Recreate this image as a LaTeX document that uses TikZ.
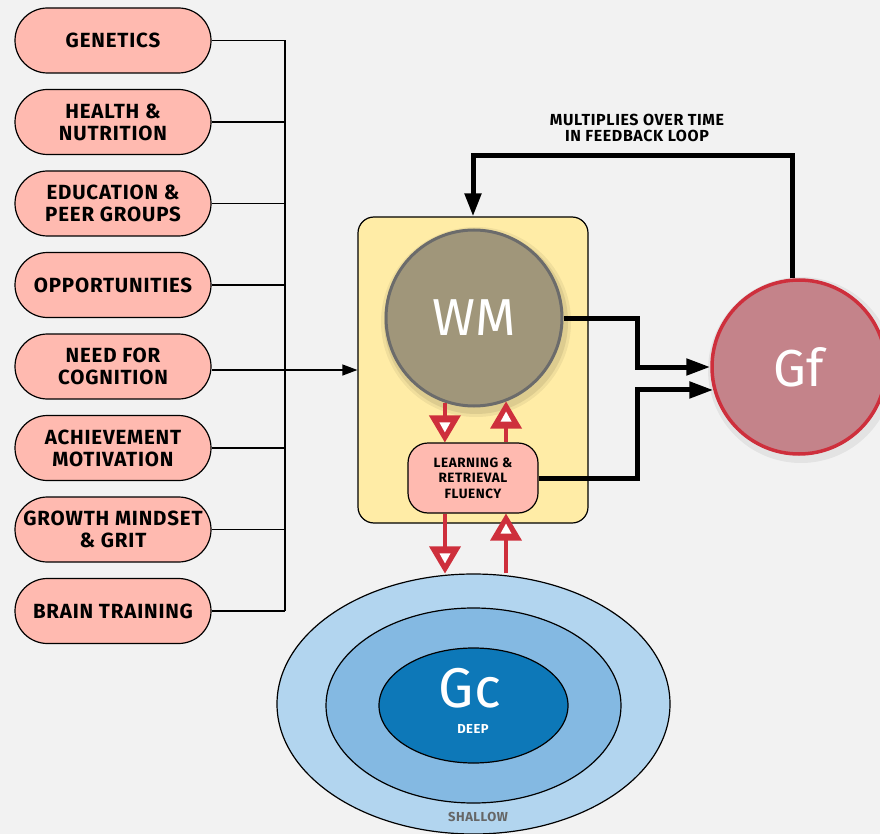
\documentclass[tikz,border=0pt]{standalone}
\usepackage{fontspec}
\setmainfont{Fira Sans}
\newfontfamily\handfont{Fira Sans}
\newfontfamily\widefont{Fira Sans}[LetterSpace=4]
\usetikzlibrary{arrows.meta,shapes.misc,shapes.geometric}

\definecolor{bgcol}{HTML}{F2F2F2}
\definecolor{pillfill}{HTML}{FFBAB0}
\definecolor{boxfill}{HTML}{FFECA6}
\definecolor{wmfill}{HTML}{A0967A}
\definecolor{wmline}{HTML}{6B6B6B}
\definecolor{redline}{HTML}{CE2F3C}
\definecolor{gffill}{HTML}{C4838A}
\definecolor{outerblue}{HTML}{B2D5EF}
\definecolor{midblue}{HTML}{84B9E2}
\definecolor{innerblue}{HTML}{0D78B8}
\definecolor{shallowgray}{HTML}{666666}

\tikzset{
  pill/.style={rounded rectangle, draw=black, line width=1.2pt, fill=pillfill,
    minimum width=196pt, minimum height=65pt, inner sep=0pt, align=center,
    font=\widefont\bfseries\fontsize{20.5}{22}\selectfont},
  feed/.style={line width=1.2pt, draw=black},
  thick arrow/.style={line width=5pt, draw=black,
    -{Triangle[length=24pt,width=16pt]}},
  red shaft/.style={line width=4.5pt, draw=redline, shorten >=14pt},
  bigletters/.style={text=white, font=\handfont\fontsize{52}{52}\selectfont},
}

% open red arrowhead: #1 = tip point, #2 = 1 (pointing down) or -1 (pointing up)
\newcommand\openhead[2]{%
  \begin{scope}[shift={(#1)}, yscale=#2]
    \fill[redline] (0,0) -- (-16,-27) -- (16,-27) -- cycle;
    \fill[white] (0,-10) -- (-5.5,-20) -- (5.5,-20) -- cycle;
  \end{scope}}

\begin{document}
\begin{tikzpicture}[x=1pt,y=-1pt]
  % canvas
  \fill[bgcol] (0,0) rectangle (880,834);
  \useasboundingbox (0,0) rectangle (880,834);

  % influences on the left
  \node[pill] (p1) at (113,40.5)  {GENETICS};
  \node[pill] (p2) at (113,122)   {HEALTH \&\\NUTRITION};
  \node[pill] (p3) at (113,203.5) {EDUCATION \&\\PEER GROUPS};
  \node[pill] (p4) at (113,285)   {OPPORTUNITIES};
  \node[pill] (p5) at (113,366.5) {NEED FOR\\COGNITION};
  \node[pill] (p6) at (113,448)   {ACHIEVEMENT\\MOTIVATION};
  \node[pill] (p7) at (113,529.5) {GROWTH MINDSET\\\& GRIT};
  \node[pill] (p8) at (113,611)   {BRAIN TRAINING};

  % working-memory box
  \node[draw=black, line width=1.2pt, fill=boxfill, rounded corners=16pt,
        minimum width=230pt, minimum height=306pt] (yb) at (473,370) {};
  \fill[black, opacity=0.06] (476,322) circle (95pt);
  \fill[black, opacity=0.08] (476,322) circle (92pt);
  \node[circle, draw=wmline, line width=3pt, fill=wmfill, minimum size=176pt,
        inner sep=0pt, bigletters] (wm) at (474,318) {WM};
  \node[draw=black, line width=1.2pt, fill=pillfill, rounded corners=20pt,
        minimum width=130pt, minimum height=70pt, align=center,
        font=\widefont\bfseries\fontsize{13.5}{15.5}\selectfont] (lf) at (473,478)
        {LEARNING \&\\RETRIEVAL\\FLUENCY};

  % fluid intelligence
  \fill[black, opacity=0.06] (801,370) circle (93pt);
  \node[circle, draw=redline, line width=3.5pt, fill=gffill, minimum size=174pt,
        inner sep=0pt, bigletters] (gf) at (799,367) {Gf};

  % crystallised knowledge rings
  \node[ellipse, draw=black, line width=1.2pt, fill=outerblue,
        minimum width=393pt, minimum height=260pt, inner sep=0pt] (outer) at (473.5,704) {};
  \node[ellipse, draw=black, line width=1.2pt, fill=midblue,
        minimum width=295pt, minimum height=195pt, inner sep=0pt] (mid) at (473.5,705.5) {};
  \node[ellipse, draw=black, line width=1.2pt, fill=innerblue,
        minimum width=189pt, minimum height=115pt, inner sep=0pt] (inner) at (473.5,705.5) {};
  \node[bigletters, font=\handfont\fontsize{56}{56}\selectfont] (gc) at (470,688) {Gc};
  \node[text=white, font=\widefont\bfseries\fontsize{13}{13}\selectfont] (deep) at (473,729) {DEEP};
  \node[text=shallowgray, font=\widefont\bfseries\fontsize{13}{13}\selectfont] (shallow) at (478,817) {SHALLOW};

  % bus collecting the influences
  \coordinate (bus) at (285,0);
  \draw[feed] (p1.east -| bus) -- (p8.east -| bus);
  \foreach \i in {1,2,3,4,6,7,8} {
    \draw[feed] (p\i.east) -- (p\i.east -| bus);
  }
  \draw[feed, -{Triangle[length=15pt,width=11pt]}] (p5.east |- yb.west) -- (yb.west);

  % exchange between WM and learning
  \coordinate (dx) at (445,0);
  \coordinate (ux) at (506,0);
  \draw[red shaft] (wm.251) -- (wm.251 |- lf.north);
  \openhead{wm.251 |- lf.north}{1}
  \draw[red shaft] (wm.291 |- lf.north) -- (wm.291);
  \openhead{wm.291}{-1}

  % exchange between learning and Gc
  \draw[red shaft] (lf.south -| dx) -- (dx |- outer.north);
  \openhead{dx |- outer.north}{1}
  \draw[red shaft] (ux |- outer.north) -- (lf.south -| ux);
  \openhead{lf.south -| ux}{-1}

  % contributions to Gf
  \coordinate (mx) at (637,0);
  \draw[thick arrow] (wm.east) -- (wm.east -| mx) -- (mx |- gf.west) -- (gf.west);
  \draw[thick arrow] (lf.east) -- (lf.east -| mx) -- (mx |- gf.195) -- (gf.195);

  % feedback loop
  \coordinate (fb) at (0,156);
  \draw[line width=5pt, -{Triangle[length=23pt,width=16pt]}]
    (gf.94) -- (gf.94 |- fb) -- (yb.north |- fb) -- (yb.north);
  \node[align=center, font=\widefont\bfseries\fontsize{16}{15.5}\selectfont] (loop) at (637,128)
    {MULTIPLIES OVER TIME\\IN FEEDBACK LOOP};
\end{tikzpicture}
\end{document}
